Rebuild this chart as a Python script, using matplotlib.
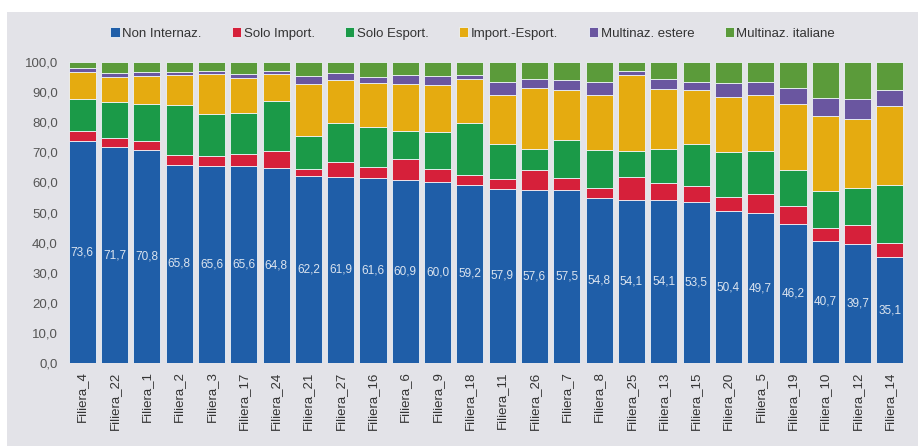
import numpy as np
import matplotlib.pyplot as plt
from matplotlib.patches import Rectangle

plt.rcParams['font.family'] = ['Liberation Sans', 'DejaVu Sans']

# Filiere ordinate per quota di imprese non internazionalizzate
filiere = ['Filiera_4', 'Filiera_22', 'Filiera_1', 'Filiera_2', 'Filiera_3', 'Filiera_17',
           'Filiera_24', 'Filiera_21', 'Filiera_27', 'Filiera_16', 'Filiera_6', 'Filiera_9',
           'Filiera_18', 'Filiera_11', 'Filiera_26', 'Filiera_7', 'Filiera_8', 'Filiera_25',
           'Filiera_13', 'Filiera_15', 'Filiera_20', 'Filiera_5', 'Filiera_19', 'Filiera_10',
           'Filiera_12', 'Filiera_14']

non_internaz = [73.6, 71.7, 70.8, 65.8, 65.6, 65.6, 64.8, 62.2, 61.9, 61.6, 60.9, 60.0, 59.2,
                57.9, 57.6, 57.5, 54.8, 54.1, 54.1, 53.5, 50.4, 49.7, 46.2, 40.7, 39.7, 35.1]
solo_import = [3.5, 3.0, 2.9, 3.4, 3.3, 3.7, 5.8, 2.4, 4.9, 3.6, 7.0, 4.4, 3.4,
               3.2, 6.4, 4.0, 3.5, 7.8, 5.6, 5.4, 4.6, 6.4, 5.8, 4.2, 6.1, 4.9]
solo_esport = [10.7, 12.1, 12.5, 16.4, 13.7, 13.7, 16.4, 10.7, 12.9, 13.3, 9.2, 12.2, 17.3,
               11.7, 7.1, 12.7, 12.6, 8.7, 11.4, 13.9, 15.1, 14.5, 12.0, 12.1, 12.2, 19.1]
import_esport = [9.0, 8.2, 9.0, 10.1, 13.5, 11.7, 9.1, 17.5, 14.4, 14.5, 15.7, 15.9, 14.4,
                 16.4, 20.3, 16.4, 18.3, 25.1, 19.9, 18.0, 18.2, 18.3, 21.9, 24.9, 23.2, 26.2]
multinaz_estere = [1.2, 1.3, 1.4, 1.1, 1.0, 1.4, 1.0, 2.6, 2.2, 1.9, 2.9, 2.7, 1.4,
                   4.1, 2.9, 3.3, 4.1, 1.4, 3.3, 2.7, 4.7, 4.4, 5.4, 6.3, 6.6, 5.5]
multinaz_italiane = [2.0, 3.7, 3.4, 3.2, 2.9, 3.9, 2.9, 4.6, 3.7, 5.1, 4.3, 4.8, 4.3,
                     6.7, 5.7, 6.1, 6.7, 2.9, 5.7, 6.5, 7.0, 6.7, 8.7, 11.8, 12.2, 9.2]

serie = [
    ('Non Internaz.', non_internaz, '#1f5ea8'),
    ('Solo Import.', solo_import, '#d6203a'),
    ('Solo Esport.', solo_esport, '#1b9a48'),
    ('Import.-Esport.', import_esport, '#e5ab10'),
    ('Multinaz. estere', multinaz_estere, '#6a56a0'),
    ('Multinaz. italiane', multinaz_italiane, '#5b9b3a'),
]

bg = '#e3e3e8'
fig = plt.figure(figsize=(9.18, 4.46), dpi=100)
fig.patch.set_facecolor('white')
# pannello grigio dietro al grafico
fig.patches.append(Rectangle((7 / 918, 0), 1, (446 - 12) / 446, transform=fig.transFigure,
                             facecolor=bg, edgecolor='none', zorder=-10))

ax = fig.add_axes([0.072, 0.186, 0.915, 0.675])
ax.set_facecolor(bg)

x = np.arange(len(filiere))
bottom = np.zeros(len(filiere))
for nome, valori, colore in serie:
    ax.bar(x, valori, width=0.84, bottom=bottom, color=colore, label=nome,
           edgecolor='#eef3f8', linewidth=0.6, zorder=2)
    bottom += np.array(valori)

# etichette dei valori al centro della barra blu
for xi, v in zip(x, non_internaz):
    ax.text(xi, v / 2, f'{v:.1f}'.replace('.', ','), ha='center', va='center',
            fontsize=8.5, color='#dbe4ef', zorder=3)

ax.set_xlim(-0.5, len(filiere) - 0.5)
ax.set_ylim(0, 100)
ax.set_yticks(np.arange(0, 101, 10))
ax.set_yticklabels([f'{t:.1f}'.replace('.', ',') for t in np.arange(0, 101, 10)],
                   fontsize=9.5, color='#555555')
ax.set_xticks(x)
ax.set_xticklabels(filiere, rotation=90, fontsize=9.5, color='#333333')
ax.tick_params(axis='y', length=0, pad=6)
ax.tick_params(axis='x', length=0, pad=6)
for s in ax.spines.values():
    s.set_visible(False)

fig.legend(loc='center', bbox_to_anchor=(0.515, 0.925), ncol=6, frameon=False,
           fontsize=9.5, handlelength=0.7, handleheight=0.7, handletextpad=0.2,
           columnspacing=2.3, labelcolor='#333333')

fig.savefig('out.png', dpi=100, facecolor=fig.get_facecolor())
